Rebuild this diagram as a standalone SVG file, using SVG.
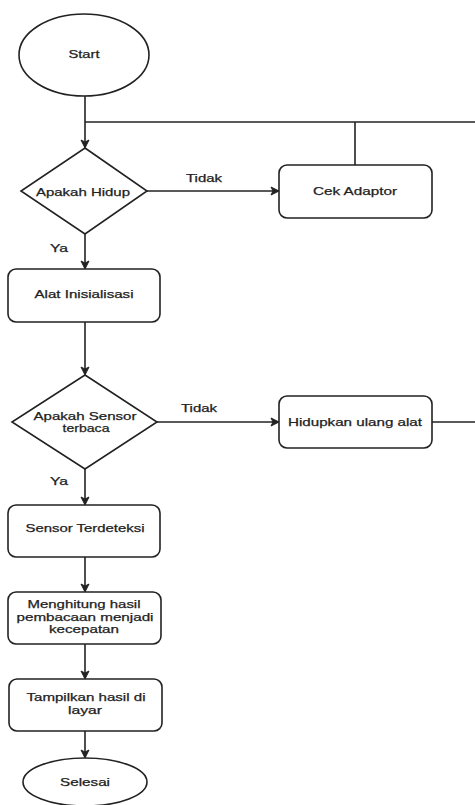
<svg xmlns="http://www.w3.org/2000/svg" width="475" height="805" viewBox="0 0 475 805">
<style>
.s{fill:#fff;stroke:#222;stroke-width:1.6}
.c{fill:none;stroke:#222;stroke-width:1.6}
text{font-family:"Liberation Sans",Arial,sans-serif;font-size:11px;fill:#222;stroke:#222;stroke-width:0.25;text-anchor:middle}
.l{text-anchor:start}
</style>
<defs>
<marker id="a" markerWidth="10" markerHeight="10" refX="8" refY="5" orient="auto" markerUnits="userSpaceOnUse">
<path d="M1,1 L9,5 L1,9 L3,5 Z" fill="#222" stroke="#222" stroke-width="1"/>
</marker>
</defs>
<rect width="475" height="805" fill="#fff"/>
<g id="connectors">
<path class="c" d="M85,96 V147" marker-end="url(#a)"/>
<path class="c" d="M85,122 H475"/>
<path class="c" d="M355,165 V122"/>
<path class="c" d="M147,191 H278" marker-end="url(#a)"/>
<path class="c" d="M85,234 V268" marker-end="url(#a)"/>
<path class="c" d="M85,322 V374" marker-end="url(#a)"/>
<path class="c" d="M157,422 H278" marker-end="url(#a)"/>
<path class="c" d="M432,422 H475"/>
<path class="c" d="M85,469 V504" marker-end="url(#a)"/>
<path class="c" d="M85,557 V591" marker-end="url(#a)"/>
<path class="c" d="M85,644 V678" marker-end="url(#a)"/>
<path class="c" d="M85,731 V757" marker-end="url(#a)" stroke-width="2.2"/>
<text class="l" x="186" y="182" textLength="36" lengthAdjust="spacingAndGlyphs">Tidak</text>
<text class="l" x="50" y="252" textLength="18" lengthAdjust="spacingAndGlyphs">Ya</text>
<text class="l" x="181" y="412" textLength="36" lengthAdjust="spacingAndGlyphs">Tidak</text>
<text class="l" x="50" y="485" textLength="18" lengthAdjust="spacingAndGlyphs">Ya</text>
</g>
<g id="start">
<ellipse class="s" cx="84" cy="55" rx="65" ry="41"/>
<text x="84" y="58" textLength="31" lengthAdjust="spacingAndGlyphs">Start</text>
</g>
<g id="apakah-hidup">
<path class="s" d="M85,148 L147,191 L85,234 L21,191 Z"/>
<text x="83" y="196" textLength="94" lengthAdjust="spacingAndGlyphs">Apakah Hidup</text>
</g>
<g id="cek-adaptor">
<rect class="s" x="279" y="165" width="153" height="53" rx="8"/>
<text x="355" y="195" textLength="84" lengthAdjust="spacingAndGlyphs">Cek Adaptor</text>
</g>
<g id="alat-inisialisasi">
<rect class="s" x="8" y="269" width="152" height="53" rx="8"/>
<text x="84" y="298" textLength="99" lengthAdjust="spacingAndGlyphs">Alat Inisialisasi</text>
</g>
<g id="apakah-sensor">
<path class="s" d="M85,375 L157,422 L85,469 L12,422 Z"/>
<text x="85" y="420" textLength="103" lengthAdjust="spacingAndGlyphs">Apakah Sensor</text>
<text x="86" y="432" textLength="47" lengthAdjust="spacingAndGlyphs">terbaca</text>
</g>
<g id="hidupkan-ulang">
<rect class="s" x="279" y="396" width="153" height="52" rx="8"/>
<text x="355" y="426" textLength="134" lengthAdjust="spacingAndGlyphs">Hidupkan ulang alat</text>
</g>
<g id="sensor-terdeteksi">
<rect class="s" x="8" y="505" width="152" height="52" rx="8"/>
<text x="85" y="532" textLength="119" lengthAdjust="spacingAndGlyphs">Sensor Terdeteksi</text>
</g>
<g id="menghitung">
<rect class="s" x="8" y="592" width="153" height="52" rx="8"/>
<text x="84" y="608" textLength="113" lengthAdjust="spacingAndGlyphs">Menghitung hasil</text>
<text x="85" y="621" textLength="137" lengthAdjust="spacingAndGlyphs">pembacaan menjadi</text>
<text x="84" y="633" textLength="70" lengthAdjust="spacingAndGlyphs">kecepatan</text>
</g>
<g id="tampilkan">
<rect class="s" x="9" y="679" width="153" height="52" rx="8"/>
<text x="86" y="701" textLength="119" lengthAdjust="spacingAndGlyphs">Tampilkan hasil di</text>
<text x="85" y="714" textLength="34" lengthAdjust="spacingAndGlyphs">layar</text>
</g>
<g id="selesai">
<ellipse class="s" cx="85" cy="782" rx="62" ry="24"/>
<text x="85" y="786" textLength="50" lengthAdjust="spacingAndGlyphs">Selesai</text>
</g>
</svg>
